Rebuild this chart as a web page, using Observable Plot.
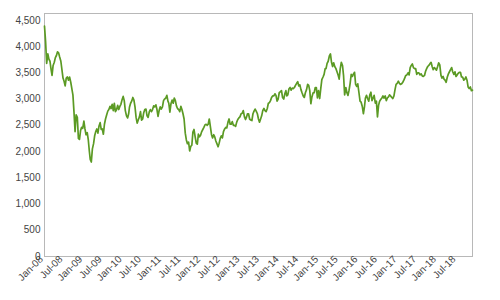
<!DOCTYPE html>
<html>
<head>
<meta charset="utf-8">
<script src="https://cdn.jsdelivr.net/npm/d3@7"></script>
<script src="https://cdn.jsdelivr.net/npm/@observablehq/plot@0.6"></script>
<style>
  html, body { margin: 0; padding: 0; background: #fff; }
  #chart { width: 500px; height: 300px; }
</style>
</head>
<body>
<div id="chart"></div>
<script>
// Months covered (one entry per month), three readings per month (early, mid, late)
const years = [2008, 2009, 2010, 2011, 2012, 2013, 2014, 2015, 2016, 2017, 2018];
const readingDays = [2, 12, 22];

const values2008 = [4390,4100,3680, 3860,3760,3720, 3580,3450,3640, 3700,3790,3830, 3900,3880,3800, 3720,3560,3400, 3340,3250,3400, 3420,3360,3420, 3320,3200,3080, 2750,2380,2700, 2650,2250,2230, 2400,2460,2440];
const values2009 = [2580,2430,2320, 2360,2220,2000, 1850,1800,2050, 2150,2300,2380, 2430,2350,2480, 2550,2420,2430, 2330,2520,2620, 2700,2770,2800, 2860,2820,2900, 2780,2920,2760, 2800,2880,2800, 2860,2900,2980];
const values2010 = [3050,2970,2780, 2680,2640,2720, 2850,2920,2960, 3030,2980,2850, 2650,2540,2600, 2660,2760,2600, 2620,2740,2800, 2810,2680,2650, 2760,2800,2760, 2800,2870,2850, 2890,2800,2670, 2780,2850,2810];
const values2011 = [2850,2970,3000, 3020,3070,2960, 2920,2750,2910, 2980,2920,3020, 2970,2870,2820, 2800,2760,2860, 2800,2720,2620, 2350,2220,2150, 2180,2010,2100, 2120,2370,2420, 2280,2160,2140, 2330,2280,2310];
const values2012 = [2380,2420,2460, 2510,2520,2500, 2520,2620,2480, 2320,2260,2320, 2280,2200,2150, 2090,2160,2250, 2300,2260,2380, 2430,2460,2450, 2560,2620,2520, 2520,2570,2500, 2500,2480,2560, 2610,2640,2660];
const values2013 = [2720,2730,2780, 2660,2610,2660, 2720,2720,2620, 2600,2590,2720, 2770,2810,2770, 2720,2620,2560, 2620,2680,2780, 2820,2780,2760, 2820,2920,2930, 2970,3030,3060, 3060,3100,3070, 2960,3000,3120];
const values2014 = [3140,3160,3030, 3000,3100,3160, 3060,3080,3190, 3220,3170,3210, 3200,3220,3260, 3300,3330,3250, 3270,3180,3120, 3060,3030,3120, 3180,3280,3260, 3160,2910,3040, 3120,3120,3220, 3220,3020,3160];
const values2015 = [3010,3200,3370, 3420,3470,3580, 3580,3680,3720, 3820,3860,3700, 3620,3690,3620, 3580,3520,3460, 3380,3580,3700, 3640,3440,3080, 3220,3120,3070, 3170,3300,3470, 3430,3480,3510, 3280,3240,3290];
const values2016 = [3120,2960,2940, 2860,2720,2850, 3020,3070,3010, 2960,3080,3130, 2970,3020,3070, 2920,2960,2660, 2880,2960,2990, 3020,3060,3020, 3060,2970,3020, 3040,3080,3060, 3030,3010,3060, 3180,3280,3300];
const values2017 = [3340,3300,3280, 3290,3320,3360, 3400,3450,3460, 3500,3460,3600, 3640,3670,3600, 3580,3580,3470, 3500,3500,3460, 3480,3440,3430, 3450,3530,3580, 3620,3640,3670, 3700,3620,3560, 3600,3580,3550];
const values2018 = [3620,3690,3650, 3450,3400,3430, 3380,3360,3320, 3420,3480,3520, 3560,3600,3520, 3470,3520,3430, 3460,3490,3510, 3510,3420,3420, 3360,3380,3420, 3360,3230,3200, 3230,3160,3170];

const valuesByYear = [values2008, values2009, values2010, values2011, values2012, values2013, values2014, values2015, values2016, values2017, values2018];

const yTicks = [0, 500, 1000, 1500, 2000, 2500, 3000, 3500, 4000, 4500];
const xTickLabels = ["Jan-08","Jul-08","Jan-09","Jul-09","Jan-10","Jul-10","Jan-11","Jul-11","Jan-12","Jul-12","Jan-13","Jul-13","Jan-14","Jul-14","Jan-15","Jul-15","Jan-16","Jul-16","Jan-17","Jul-17","Jan-18","Jul-18"];

// Build table
const data = [];
valuesByYear.forEach((vals, yi) => {
  vals.forEach((v, i) => {
    const month = Math.floor(i / 3);
    const day = readingDays[i % 3];
    data.push({date: new Date(Date.UTC(years[yi], month, day)), value: v});
  });
});

const parseLabel = d3.utcParse("%b-%y");
const xTicks = xTickLabels.map(parseLabel);
const fmtX = d3.utcFormat("%b-%y");

const chart = Plot.plot({
  width: 500,
  height: 300,
  marginLeft: 44,
  marginRight: 28,
  marginTop: 13,
  marginBottom: 44,
  style: {fontFamily: "Liberation Sans, Arial, sans-serif", fontSize: "10px", color: "#444", background: "#fff"},
  x: {type: "utc", domain: d3.extent(data, d => d.date)},
  y: {domain: [0, 4630]},
  marks: [
    Plot.frame({stroke: "#b8b8b8"}),
    Plot.axisY({ticks: yTicks, tickFormat: d3.format(","), tickSize: 0, tickPadding: 4, label: null, fontSize: 10}),
    Plot.axisX({ticks: xTicks, tickFormat: fmtX, tickSize: 0, tickPadding: 1, tickRotate: -45, dx: -3, label: null, fontSize: 10}),
    Plot.line(data, {x: "date", y: "value", stroke: "#5b9a24", strokeWidth: 1.7})
  ]
});
document.getElementById("chart").appendChild(chart);
</script>
</body>
</html>
